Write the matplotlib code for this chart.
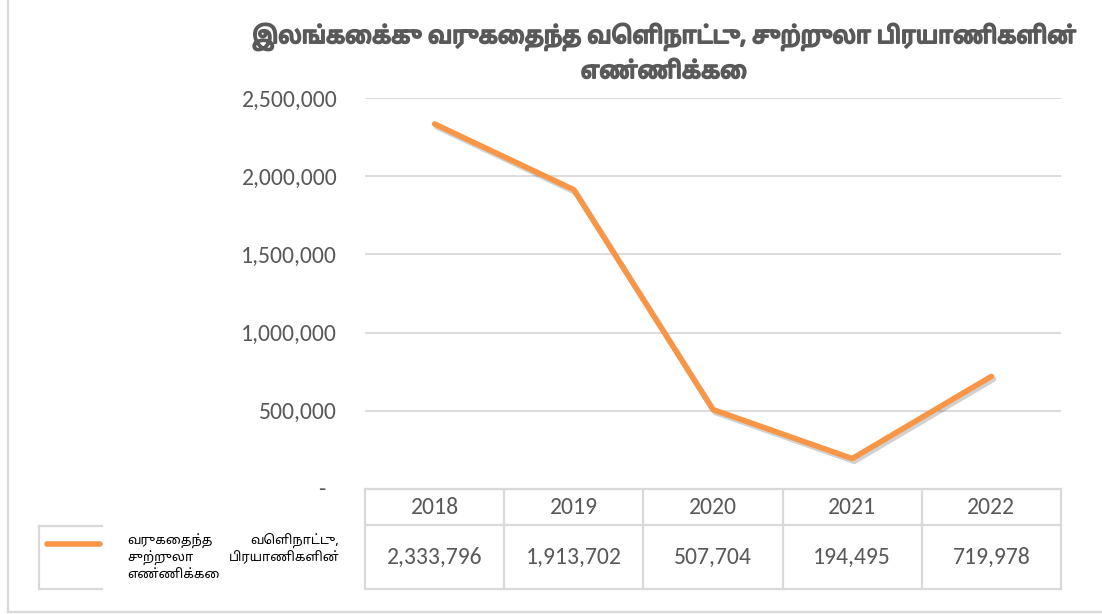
import matplotlib
matplotlib.use("Agg")
import matplotlib.pyplot as plt
import matplotlib.patheffects as pe
from matplotlib.lines import Line2D

# Foreign tourist arrivals to Sri Lanka
years = ["2018", "2019", "2020", "2021", "2022"]
arrivals = [2333796, 1913702, 507704, 194495, 719978]
y_ticks = [0, 500000, 1000000, 1500000, 2000000, 2500000]
title_lines = ["இலங்கைக்கு வருகைதந்த வெளிநாட்டு, சுற்றுலா பிரயாணிகளின்", "எண்ணிக்கை"]
legend_rows = [("வருகைதந்த", "வெளிநாட்டு,"), ("சுற்றுலா", "பிரயாணிகளின்"), ("எண்ணிக்கை", "")]

W, H = 1102, 614
LINE_COLOR = "#F79646"
GRID_COLOR = "#D9D9D9"
TEXT_COLOR = "#595959"
NUM_FONT = ["Carlito", "Lato", "DejaVu Sans"]
TAMIL_FONT = ["Noto Sans Tamil", "DejaVu Sans"]


def fx(x):
    return x / W


def fy(y):
    return 1 - y / H


fig = plt.figure(figsize=(W / 100, H / 100), dpi=100)
fig.patch.set_facecolor("white")

# plot area
left, right, top, bottom = 365, 1061, 98, 489
ax = fig.add_axes([fx(left), fy(bottom), (right - left) / W, (bottom - top) / H])
ax.set_xlim(-0.5, len(years) - 0.5)
ax.set_ylim(0, 2500000)
for s in ax.spines.values():
    s.set_visible(False)
ax.set_xticks([])
ax.set_yticks(y_ticks)
ax.set_yticklabels(["" if v == 0 else f"{v:,}" for v in y_ticks],
                   fontfamily=NUM_FONT, fontsize=17, color=TEXT_COLOR)
ax.tick_params(axis="y", length=0, pad=20)
ax.yaxis.grid(True, color=GRID_COLOR, linewidth=1.3)
ax.set_axisbelow(True)
# accounting-style dash for zero
ax.annotate("-", xy=(0, 0), xycoords=("axes fraction", "data"),
            xytext=(-40, 0), textcoords="offset pixels", ha="right", va="center",
            fontfamily=NUM_FONT, fontsize=17, color=TEXT_COLOR)

xs = list(range(len(years)))
ax.plot(xs, arrivals, color=LINE_COLOR, linewidth=4.0,
        solid_capstyle="round", solid_joinstyle="round", zorder=3,
        path_effects=[pe.SimpleLineShadow(offset=(1.5, -2), shadow_color="black", alpha=0.18),
                      pe.Normal()])

# data table under the plot
trans = ax.get_xaxis_transform()
plot_h = bottom - top
r_sep = -(525 - bottom) / plot_h
r_bot = -(589 - bottom) / plot_h
for yv in (0, r_sep, r_bot):
    ax.add_line(Line2D([-0.5, len(years) - 0.5], [yv, yv], transform=trans,
                       color=GRID_COLOR, linewidth=1.6, clip_on=False))
for i in range(len(years) + 1):
    ax.add_line(Line2D([i - 0.5, i - 0.5], [0, r_bot], transform=trans,
                       color=GRID_COLOR, linewidth=1.6, clip_on=False))
for i, (yr, v) in enumerate(zip(years, arrivals)):
    ax.text(i, r_sep / 2, yr, transform=trans, ha="center", va="center",
            fontfamily=NUM_FONT, fontsize=17, color=TEXT_COLOR)
    ax.text(i, (r_sep + r_bot) / 2, f"{v:,}", transform=trans, ha="center", va="center",
            fontfamily=NUM_FONT, fontsize=17, color=TEXT_COLOR)

# legend key cell
for (x0, y0, x1, y1) in [(39, 526, 102, 526), (39, 526, 39, 589), (39, 589, 102, 589)]:
    fig.add_artist(Line2D([fx(x0), fx(x1)], [fy(y0), fy(y1)], color=GRID_COLOR, linewidth=1.6))
fig.add_artist(Line2D([fx(47), fx(100)], [fy(544), fy(544)], color=LINE_COLOR,
                      linewidth=4.0, solid_capstyle="round"))
for k, (lw, rw) in enumerate(legend_rows):
    yy = 541 + k * 16.5
    fig.text(fx(127), fy(yy), lw, ha="left", va="center", fontfamily=TAMIL_FONT,
             fontsize=9.3, color="black")
    if rw:
        fig.text(fx(339), fy(yy), rw, ha="right", va="center", fontfamily=TAMIL_FONT,
                 fontsize=9.3, color="black")

# title, thickened with a stroke of the same colour
for k, line in enumerate(title_lines):
    fig.text(fx(664), fy(37 + k * 35), line, ha="center", va="center",
             fontfamily=TAMIL_FONT, fontsize=16.7, color=TEXT_COLOR,
             path_effects=[pe.withStroke(linewidth=1.4, foreground=TEXT_COLOR)])

# chart frame
fig.add_artist(Line2D([fx(8), fx(8)], [fy(0), fy(612)], color=GRID_COLOR, linewidth=1.6))
fig.add_artist(Line2D([fx(8), fx(W)], [fy(612), fy(612)], color=GRID_COLOR, linewidth=1.6))

fig.savefig("out.png", dpi=100, facecolor="white")
